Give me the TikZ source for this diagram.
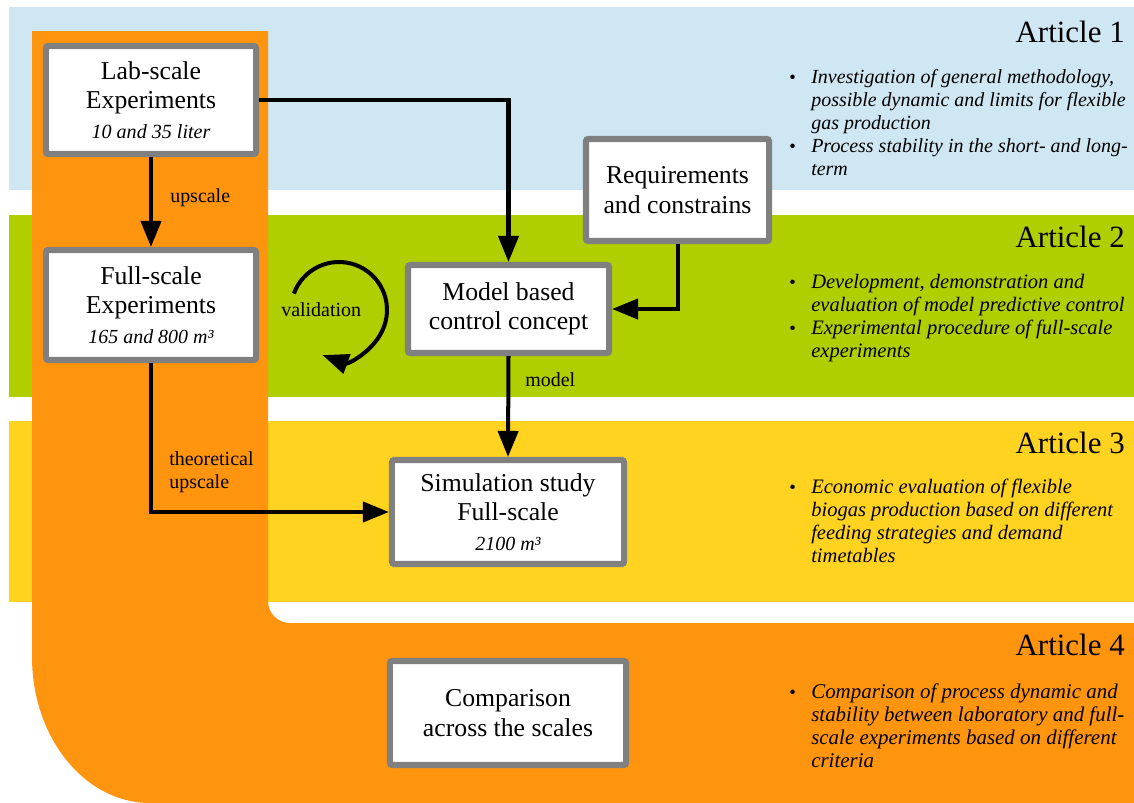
\documentclass[tikz,border=0pt]{standalone}
\usepackage{fontspec}
\setmainfont{Liberation Serif}
\usetikzlibrary{arrows.meta}
\definecolor{bandblue}{HTML}{CFE6F3}
\definecolor{bandgreen}{HTML}{B0CE00}
\definecolor{bandyellow}{HTML}{FFD320}
\definecolor{bandorange}{HTML}{FF950E}
\definecolor{boxgray}{HTML}{808080}

\begin{document}
\begin{tikzpicture}[x=0.025cm,y=-0.025cm,
  stage/.style={draw=boxgray, line width=4.3pt, fill=white, rounded corners=1.5pt,
    align=center, inner sep=0pt, font=\fontsize{18.3}{20.8}\selectfont},
  flow/.style={line width=2.85pt, -{Triangle[length=0.65cm,width=0.5cm]}},
  lbl/.style={anchor=base west, inner sep=0pt, font=\fontsize{14.2}{16.4}\selectfont},
  art/.style={anchor=base east, inner sep=0pt, font=\fontsize{22}{26}\selectfont},
  note/.style={anchor=base west, inner sep=0pt, font=\fontsize{14.6}{16.36}\selectfont\itshape},
  dot/.style={anchor=base west, inner sep=0pt, font=\fontsize{13.3}{16.36}\selectfont}]

% page
\useasboundingbox (0,0) rectangle (1134,803);
\fill[white] (0,0) rectangle (1134,803);

% article bands
\fill[bandblue]   (9,7)   rectangle (1134,190);
\fill[bandgreen]  (9,215) rectangle (1134,397);
\fill[bandyellow] (9,421) rectangle (1134,602);

% orange L-shaped band (article 4 + experiments column)
\fill[bandorange] (32,31) -- (268,31) -- (268,601)
  .. controls (268,613.2) and (277.8,623) .. (290,623)
  -- (1134,623) -- (1134,803) -- (150,803)
  .. controls (84.8,803) and (32,737.6) .. (32,657) -- cycle;

% stages
\node[stage, minimum width=5.25cm, minimum height=2.7cm] (lab) at (151,100)
  {Lab-scale\\Experiments\\{\fontsize{14.3}{15}\selectfont\itshape 10 and 35 liter}};
\node[stage, minimum width=5.25cm, minimum height=2.75cm] (full) at (151,305)
  {Full-scale\\Experiments\\{\fontsize{14.2}{15}\selectfont\itshape 165 and 800 m³}};
\node[stage, minimum width=4.575cm, minimum height=2.55cm] (req) at (677.5,190)
  {Requirements\\and constrains};
\node[stage, minimum width=5.025cm, minimum height=2.2cm] (model) at (508.5,309)
  {Model based\\control concept};
\node[stage, minimum width=5.8cm, minimum height=2.6cm] (sim) at (508,512)
  {Simulation study\\Full-scale\\{\fontsize{14.2}{15}\selectfont\itshape 2100 m³}};
\node[stage, minimum width=5.9cm, minimum height=2.6cm] (comp) at (508,713)
  {Comparison\\across the scales};

% connectors
\draw[flow] (lab.east) -| (model.north);
\draw[flow] (lab.south) -- (full.north);
\draw[flow] (req.south) |- (model.east);
\draw[flow] (model.south) -- (sim.north);
\draw[flow] (full.south) |- (sim.west);

% validation loop
\coordinate (valc) at (339,310);
\begin{scope}[shift={(valc)}, yscale=-1]
  \draw[flow] (160:48) arc[start angle=160, end angle=-110, radius=48];
\end{scope}

% connector labels
\node[lbl] (lup) at (170,202) {upscale};
\node[lbl] (lval) at (281,316) {validation};
\node[lbl] (lmod) at (525,386) {model};
\node[lbl] (ltheo) at (169,465)
  {\begin{tabular}[t]{@{}l@{}}theoretical\\upscale\end{tabular}};

% article headings
\node[art] (a1) at (1125,42)  {Article 1};
\node[art] (a2) at (1125,247) {Article 2};
\node[art] (a3) at (1125,453) {Article 3};
\node[art] (a4) at (1125,655) {Article 4};

% article contents
\node[dot] (b11) at (789,83) {\textbullet};
\node[note, font=\fontsize{14.2}{16.36}\selectfont\itshape] (t11) at (811,83) {\begin{tabular}[t]{@{}l@{}}Investigation of general methodology,\\possible dynamic and limits for flexible\\gas production\end{tabular}};
\node[dot] (b12) at (789,152) {\textbullet};
\node[note, font=\fontsize{14.2}{16.36}\selectfont\itshape] (t12) at (811,152) {\begin{tabular}[t]{@{}l@{}}Process stability in the short- and long-\\term\end{tabular}};

\node[dot] (b21) at (789,288) {\textbullet};
\node[note] (t21) at (811,288) {\begin{tabular}[t]{@{}l@{}}Development, demonstration and\\evaluation of model predictive control\end{tabular}};
\node[dot] (b22) at (789,334) {\textbullet};
\node[note] (t22) at (811,334) {\begin{tabular}[t]{@{}l@{}}Experimental procedure of full-scale\\experiments\end{tabular}};

\node[dot] (b31) at (789,493) {\textbullet};
\node[note] (t31) at (811,493) {\begin{tabular}[t]{@{}l@{}}Economic evaluation of flexible\\biogas production based on different\\feeding strategies and demand\\timetables\end{tabular}};

\node[dot] (b41) at (789,698) {\textbullet};
\node[note, font=\fontsize{14.9}{16.36}\selectfont\itshape] (t41) at (811,698) {\begin{tabular}[t]{@{}l@{}}Comparison of process dynamic and\\stability between laboratory and full-\\scale experiments based on different\\criteria\end{tabular}};

\end{tikzpicture}
\end{document}
